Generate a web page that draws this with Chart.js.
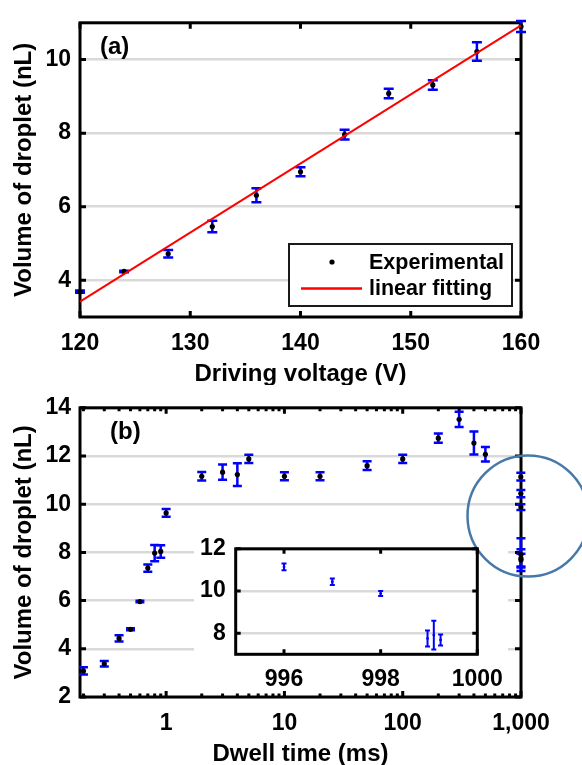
<!DOCTYPE html>
<html>
<head>
<meta charset="utf-8">
<script src="https://cdn.jsdelivr.net/npm/chart.js@4.4.1/dist/chart.umd.min.js"></script>
<style>
  html, body { margin: 0; padding: 0; background: #fff; }
  #wrap { position: relative; width: 582px; height: 765px; overflow: hidden; }
  canvas { position: absolute; left: 0; }
  #chartA { top: 0; }
</style>
</head>
<body>
<div id="wrap">
  <canvas id="chartA" width="582" height="385"></canvas>
  <canvas id="chartB" width="582" height="380"></canvas>
  <canvas id="inset" width="314" height="172"></canvas>
</div>
<script>
// ===================== Panel (a): driving voltage =====================
const voltage = [120, 124, 128, 132, 136, 140, 144, 148, 152, 156, 160];
const volumeA = [3.69, 4.24, 4.72, 5.46, 6.31, 6.95, 7.96, 9.08, 9.31, 10.22, 10.9];
const errorA = [0.03, 0.02, 0.10, 0.155, 0.19, 0.12, 0.13, 0.13, 0.13, 0.25, 0.15];
const fitVoltage = [120, 160];
const fitVolume = [3.42, 10.93];
const voltageTicks = [120, 130, 140, 150, 160];
const volumeTicksA = [4, 6, 8, 10];

// ===================== Panel (b): dwell time =====================
const dwell = [0.2, 0.3, 0.4, 0.5, 0.6, 0.7, 0.8, 0.9, 1, 2, 3, 4, 5, 10, 20, 50, 100, 200, 300, 400, 500,
  996, 997, 998, 998.97, 999.1, 999.24];
const volumeB = [3.08, 3.38, 4.43, 4.81, 5.96, 7.35, 7.97, 8.04, 9.64, 11.16, 11.33, 11.23, 11.88, 11.16, 11.16,
  11.6, 11.88, 12.74, 13.52, 12.54, 12.07, 11.14, 10.44, 9.88, 7.75, 7.91, 7.68];
const errorB = [0.15, 0.11, 0.13, 0.04, 0.03, 0.15, 0.34, 0.26, 0.16, 0.18, 0.32, 0.47, 0.17, 0.17, 0.17,
  0.18, 0.17, 0.19, 0.32, 0.48, 0.3, 0.16, 0.15, 0.12, 0.38, 0.68, 0.26];
const dwellTicks = [1, 10, 100, 1000];
const dwellTickLabels = ['1', '10', '100', '1,000'];
const volumeTicksB = [2, 4, 6, 8, 10, 12, 14];

// inset: zoom on the last points
const insetTicks = [996, 998, 1000];
const insetVolumeTicks = [8, 10, 12];

// ===================== Layout =====================
const PANEL_B_TOP = 385;
const INSET = { left: 194, top: 525, width: 314, height: 165 };

document.getElementById('chartB').style.top = PANEL_B_TOP + 'px';
const insetCanvas = document.getElementById('inset');
insetCanvas.style.left = INSET.left + 'px';
insetCanvas.style.top = INSET.top + 'px';

Chart.defaults.font.family = '"Liberation Sans", Arial, Helvetica, sans-serif';
Chart.defaults.font.weight = 'bold';
Chart.defaults.font.size = 23;
Chart.defaults.color = '#000';
Chart.defaults.animation = false;
Chart.defaults.plugins.legend.display = false;
Chart.defaults.plugins.tooltip.enabled = false;

function pts(xs, ys) {
  return xs.map(function (v, i) { return { x: v, y: ys[i] }; });
}

function fixedTicks(values) {
  return function (scale) { scale.ticks = values.map(function (v) { return { value: v }; }); };
}

function valueAxis(min, max, tickValues, width, pad, title) {
  return {
    min: min, max: max, bounds: 'data',
    afterBuildTicks: fixedTicks(tickValues),
    afterFit: function (s) { s.width = width; },
    ticks: { padding: pad },
    grid: { color: '#d9d9d9', lineWidth: 2.5, drawTicks: false },
    border: { display: false },
    title: title
      ? { display: true, text: title, font: { size: 24, lineHeight: 1 }, padding: { top: 12, bottom: 0 } }
      : { display: false }
  };
}

function bottomAxis(type, min, max, tickValues, height, pad, title, labels) {
  return {
    type: type, min: min, max: max, bounds: 'data',
    afterBuildTicks: fixedTicks(tickValues),
    afterFit: function (s) { s.height = height; },
    ticks: {
      padding: pad, maxRotation: 0, autoSkip: false,
      callback: function (v, i) { return labels ? labels[i] : String(v); }
    },
    grid: { display: false },
    border: { display: false },
    title: title
      ? { display: true, text: title, font: { size: 24, lineHeight: 0.9 }, padding: { top: 0, bottom: 0 } }
      : { display: false }
  };
}

function logMinors(scale) {
  const out = [];
  for (let d = Math.floor(Math.log10(scale.min)); d < Math.log10(scale.max); d++) {
    for (let m = 2; m <= 9; m++) {
      const v = m * Math.pow(10, d);
      if (v > scale.min && v < scale.max) out.push(v);
    }
  }
  return out;
}

// ===================== Plugins =====================
// black box with inward ticks on all four sides
const frame = {
  id: 'frame',
  beforeDatasetsDraw(chart, args, o) {
    const { ctx, chartArea: a, scales: { x, y } } = chart;
    ctx.save();
    ctx.strokeStyle = '#000';
    ctx.lineWidth = o.width;
    ctx.beginPath();
    const vTick = function (px, len) {
      ctx.moveTo(px, a.bottom); ctx.lineTo(px, a.bottom - len);
      ctx.moveTo(px, a.top); ctx.lineTo(px, a.top + len);
    };
    x.ticks.forEach(function (t) { vTick(x.getPixelForValue(t.value), o.tickLength); });
    if (o.minorX) logMinors(x).forEach(function (v) { vTick(x.getPixelForValue(v), o.minorLength); });
    y.ticks.forEach(function (t) {
      const py = y.getPixelForValue(t.value);
      ctx.moveTo(a.left, py); ctx.lineTo(a.left + o.tickLength, py);
      ctx.moveTo(a.right, py); ctx.lineTo(a.right - o.tickLength, py);
    });
    ctx.stroke();
    ctx.strokeRect(a.left, a.top, a.width, a.height);
    ctx.restore();
  }
};

// vertical error bars with caps, under the points
const errorBars = {
  id: 'errorBars',
  beforeDatasetsDraw(chart, args, o) {
    const { ctx, scales: { x, y } } = chart;
    ctx.save();
    ctx.strokeStyle = o.color;
    ctx.lineWidth = o.width;
    chart.data.datasets.forEach(function (ds) {
      if (!ds.errors) return;
      ds.data.forEach(function (p, i) {
        const e = ds.errors[i];
        const px = x.getPixelForValue(p.x);
        const top = y.getPixelForValue(p.y + e);
        const bot = y.getPixelForValue(p.y - e);
        ctx.beginPath();
        ctx.moveTo(px, top); ctx.lineTo(px, bot);
        ctx.moveTo(px - o.cap, top); ctx.lineTo(px + o.cap, top);
        ctx.moveTo(px - o.cap, bot); ctx.lineTo(px + o.cap, bot);
        ctx.stroke();
      });
    });
    ctx.restore();
  }
};

const panelLabel = {
  id: 'panelLabel',
  afterDraw(chart, args, o) {
    const { ctx, chartArea: a } = chart;
    ctx.save();
    ctx.font = 'bold 24px "Liberation Sans", Arial, sans-serif';
    ctx.fillStyle = '#000';
    ctx.textBaseline = 'alphabetic';
    ctx.fillText(o.text, a.left + o.dx, a.top + o.dy);
    ctx.restore();
  }
};

const boxLegend = {
  id: 'boxLegend',
  afterDraw(chart, args, o) {
    const { ctx, chartArea: a } = chart;
    const left = a.right - o.right;
    const top = a.bottom - o.bottom;
    const [dots, fit] = chart.data.datasets;
    ctx.save();
    ctx.fillStyle = '#fff';
    ctx.fillRect(left, top, o.width, o.height);
    ctx.strokeStyle = '#1a1a1a';
    ctx.lineWidth = 2;
    ctx.strokeRect(left, top, o.width, o.height);
    ctx.fillStyle = '#000';
    ctx.beginPath();
    ctx.arc(left + 43, top + 18, 2.6, 0, Math.PI * 2);
    ctx.fill();
    ctx.strokeStyle = fit.borderColor;
    ctx.lineWidth = 2.5;
    ctx.beginPath();
    ctx.moveTo(left + 12, top + 44.5); ctx.lineTo(left + 73, top + 44.5);
    ctx.stroke();
    ctx.font = 'bold 21.5px "Liberation Sans", Arial, sans-serif';
    ctx.textBaseline = 'middle';
    ctx.fillStyle = '#000';
    ctx.fillText(dots.label, left + 80, top + 19);
    ctx.fillText(fit.label, left + 80, top + 45);
    ctx.restore();
  }
};

// white area behind the inset so the main grid stops there
const insetMask = {
  id: 'insetMask',
  beforeDatasetsDraw(chart, args, o) {
    const ctx = chart.ctx;
    ctx.save();
    ctx.fillStyle = '#fff';
    ctx.fillRect(o.left, o.top, o.width, o.height);
    ctx.restore();
  }
};

const circleMark = {
  id: 'circleMark',
  afterDraw(chart, args, o) {
    const { ctx, scales: { x, y } } = chart;
    ctx.save();
    ctx.strokeStyle = o.color;
    ctx.lineWidth = o.width;
    ctx.beginPath();
    ctx.arc(x.getPixelForValue(o.x) + o.dx, y.getPixelForValue(o.y), o.r, 0, Math.PI * 2);
    ctx.stroke();
    ctx.restore();
  }
};

// ===================== Panel (a) =====================
new Chart(document.getElementById('chartA'), {
  type: 'scatter',
  data: {
    datasets: [
      {
        label: 'Experimental', data: pts(voltage, volumeA), errors: errorA,
        pointRadius: 2.6, pointBackgroundColor: '#000', pointBorderWidth: 0, order: 2, clip: false
      },
      {
        type: 'line', label: 'linear fitting', data: pts(fitVoltage, fitVolume),
        borderColor: '#ff0000', borderWidth: 2, pointRadius: 0, order: 1, clip: false
      }
    ]
  },
  options: {
    responsive: false,
    layout: { padding: { left: 0, right: 61, top: 16, bottom: 0 } },
    scales: {
      x: bottomAxis('linear', 120, 160, voltageTicks, 68, 5, 'Driving voltage (V)'),
      y: valueAxis(3, 11, volumeTicksA, 80, 9, 'Volume of droplet (nL)')
    },
    plugins: {
      frame: { width: 3, tickLength: 6 },
      errorBars: { color: '#0000ff', width: 2.5, cap: 5 },
      panelLabel: { text: '(a)', dx: 20, dy: 31 },
      boxLegend: { right: 232, bottom: 73, width: 223, height: 62 }
    }
  },
  plugins: [frame, errorBars, boxLegend, panelLabel]
});

// ===================== Panel (b) =====================
new Chart(document.getElementById('chartB'), {
  type: 'scatter',
  data: {
    datasets: [{
      label: 'Experimental', data: pts(dwell, volumeB), errors: errorB,
      pointRadius: 2.6, pointBackgroundColor: '#000', pointBorderWidth: 0, clip: false
    }]
  },
  options: {
    responsive: false,
    layout: { padding: { left: 0, right: 61, top: 15, bottom: 0 } },
    scales: {
      x: bottomAxis('logarithmic', 0.187, 1000, dwellTicks, 68, 5, 'Dwell time (ms)', dwellTickLabels),
      y: valueAxis(2, 14, volumeTicksB, 80, 9, 'Volume of droplet (nL)')
    },
    plugins: {
      insetMask: { left: INSET.left, top: INSET.top - PANEL_B_TOP, width: INSET.width, height: INSET.height },
      frame: { width: 3, tickLength: 6, minorX: true, minorLength: 3.5 },
      errorBars: { color: '#0000ff', width: 2.5, cap: 4.5 },
      panelLabel: { text: '(b)', dx: 30, dy: 31 },
      circleMark: { x: 1000, y: 9.51, dx: 7, r: 60.5, color: '#4679a8', width: 2.5 }
    }
  },
  plugins: [insetMask, frame, errorBars, panelLabel, circleMark]
});

// ===================== Inset =====================
const insetMin = 995, insetMax = 1000;
const insetIdx = dwell.map(function (v, i) { return i; }).filter(function (i) { return dwell[i] >= insetMin; });

new Chart(insetCanvas, {
  type: 'scatter',
  data: {
    datasets: [{
      data: insetIdx.map(function (i) { return { x: dwell[i], y: volumeB[i] }; }),
      errors: insetIdx.map(function (i) { return errorB[i]; }),
      pointRadius: 1.4, pointBackgroundColor: '#0000ff', pointBorderWidth: 0
    }]
  },
  options: {
    responsive: false,
    layout: { padding: { left: 0, right: 30.7, top: 16.7, bottom: 0 } },
    scales: {
      x: bottomAxis('linear', insetMin, insetMax, insetTicks, 42.7, 4),
      y: valueAxis(7, 12, insetVolumeTicks, 41.7, 10)
    },
    plugins: {
      frame: { width: 3, tickLength: 5 },
      errorBars: { color: '#0000ff', width: 2, cap: 2.5 }
    }
  },
  plugins: [frame, errorBars]
});
</script>
</body>
</html>
